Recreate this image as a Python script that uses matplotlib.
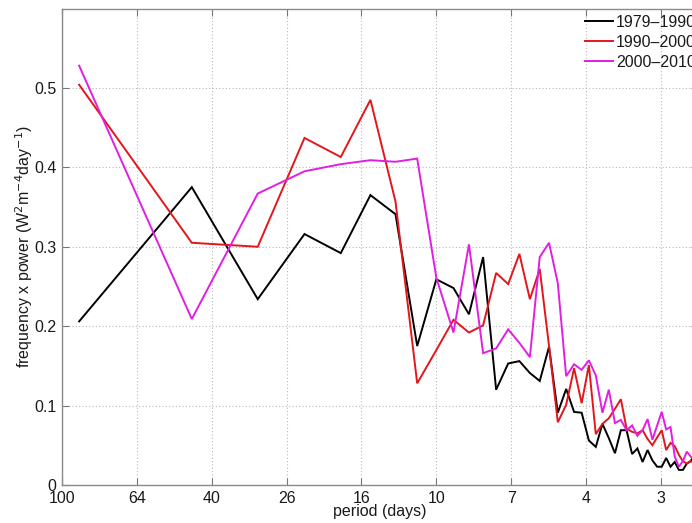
import numpy as np
import matplotlib
matplotlib.use("Agg")
import matplotlib.pyplot as plt

# Spectral harmonics of a 90-day season (k = 1 .. 44)
record_days = 90
harmonic = np.arange(1, 45)

power_1979_1990 = [0.206, 0.375, 0.234, 0.316, 0.292, 0.365, 0.341, 0.175, 0.259, 0.248,
                   0.215, 0.287, 0.120, 0.153, 0.156, 0.141, 0.131, 0.174, 0.091, 0.121,
                   0.092, 0.091, 0.056, 0.048, 0.077, 0.059, 0.040, 0.069, 0.069, 0.039,
                   0.046, 0.029, 0.044, 0.031, 0.023, 0.023, 0.034, 0.023, 0.029, 0.019,
                   0.019, 0.027, 0.030, 0.038]
power_1990_2000 = [0.504, 0.305, 0.300, 0.437, 0.413, 0.485, 0.357, 0.128, 0.170, 0.208,
                   0.192, 0.201, 0.267, 0.253, 0.291, 0.234, 0.272, 0.175, 0.079, 0.101,
                   0.147, 0.103, 0.151, 0.064, 0.077, 0.084, 0.096, 0.108, 0.071, 0.067,
                   0.065, 0.069, 0.058, 0.050, 0.060, 0.069, 0.044, 0.053, 0.049, 0.038,
                   0.030, 0.027, 0.030, 0.028]
power_2000_2010 = [0.528, 0.209, 0.367, 0.395, 0.404, 0.409, 0.407, 0.411, 0.261, 0.192,
                   0.303, 0.166, 0.172, 0.196, 0.179, 0.161, 0.287, 0.305, 0.254, 0.137,
                   0.152, 0.145, 0.157, 0.138, 0.091, 0.120, 0.078, 0.082, 0.069, 0.075,
                   0.062, 0.069, 0.083, 0.057, 0.075, 0.092, 0.070, 0.073, 0.036, 0.023,
                   0.030, 0.042, 0.036, 0.032]

series_labels = ["1979\u20131990", "1990\u20132000", "2000\u20132010"]
series_colors = ["#000000", "#e3161c", "#e21ee2"]

period_tick_labels = ["100", "64", "40", "26", "16", "10", "7", "4", "3"]
y_ticks = [0, 0.1, 0.2, 0.3, 0.4, 0.5]
y_tick_labels = ["0", "0.1", "0.2", "0.3", "0.4", "0.5"]

plt.rcParams["font.family"] = ["Liberation Sans", "DejaVu Sans"]

W, H = 692, 523
fig = plt.figure(figsize=(W / 100, H / 100), dpi=100)
left, right, bottom, top = 62, 698, 485, 8.5
ax = fig.add_axes([left / W, 1 - bottom / H, (right - left) / W, (bottom - top) / H])

freq = harmonic / record_days
for vals, lab, col in zip([power_1979_1990, power_1990_2000, power_2000_2010],
                          series_labels, series_colors):
    ax.plot(freq, vals, color=col, lw=1.4, label=lab, solid_joinstyle="miter")

ax.set_xscale("log")
ax.set_xlim(0.01, 0.5)
ax.set_ylim(0, 0.6)
x_ticks = 10 ** (-2 + 0.2 * np.arange(len(period_tick_labels)))
ax.set_xticks(x_ticks)
ax.set_xticklabels(period_tick_labels)
ax.xaxis.set_minor_locator(matplotlib.ticker.NullLocator())
ax.set_yticks(y_ticks)
ax.set_yticklabels(y_tick_labels)

ax.grid(True, color="#b8b8b8", lw=0.8, linestyle=(0, (1, 2)))
ax.tick_params(direction="in", length=5, width=0.8, colors="#777777",
               labelcolor="#1a1a1a", labelsize=11.5, top=True, right=True, pad=4)
for s in ax.spines.values():
    s.set_color("#8a8a8a")
    s.set_linewidth(1.0)

ax.set_xlabel("period (days)", fontsize=11.5, color="#1a1a1a", labelpad=-1)
ax.set_ylabel("frequency x power (W$^2$m$^{-4}$day$^{-1}$)", fontsize=11.5,
              color="#1a1a1a", labelpad=-1)

leg = ax.legend(loc="upper left", bbox_to_anchor=(585 / W, 1 - 15 / H),
                bbox_transform=fig.transFigure, frameon=False, fontsize=11.5,
                handlelength=1.75, handletextpad=0.2, borderpad=0,
                labelspacing=0.3, borderaxespad=0)
for t in leg.get_texts():
    t.set_color("#1a1a1a")

fig.savefig("out.png", dpi=100)
